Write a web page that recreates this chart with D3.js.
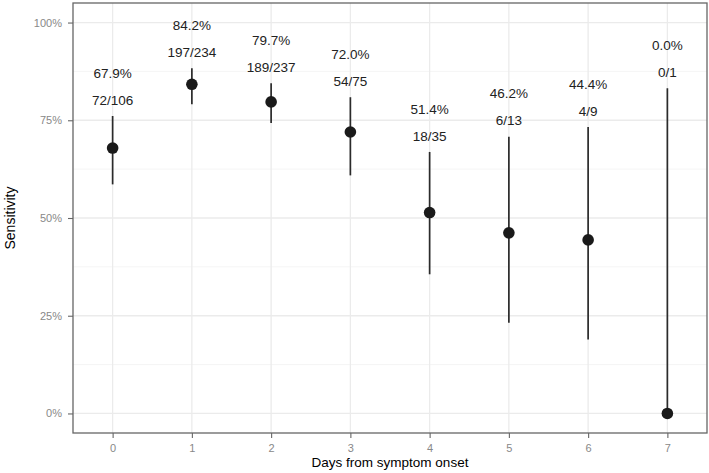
<!DOCTYPE html>
<html>
<head>
<meta charset="utf-8">
<script src="https://cdn.jsdelivr.net/npm/d3@7"></script>
<style>
  body { margin: 0; background: #fff; }
  text { font-family: "Liberation Sans", Arial, sans-serif; }
</style>
</head>
<body>
<div id="grafico"></div>
<script>
const width = 709
const height = 473

// valores
const days = [0, 1, 2, 3, 4, 5, 6, 7]
const sensitivity = [0.679, 0.842, 0.797, 0.720, 0.514, 0.462, 0.444, 0.0]
const lower = [0.586, 0.791, 0.743, 0.609, 0.356, 0.232, 0.189, 0.0]
const upper = [0.761, 0.883, 0.845, 0.809, 0.669, 0.708, 0.733, 0.832]
const pctLabels = ['67.9%', '84.2%', '79.7%', '72.0%', '51.4%', '46.2%', '44.4%', '0.0%']
const countLabels = ['72/106', '197/234', '189/237', '54/75', '18/35', '6/13', '4/9', '0/1']
const yTicks = [0, 0.25, 0.5, 0.75, 1]
const yMinor = [0.125, 0.375, 0.625, 0.875]

const data = days.map((d, i) => ({
    day: d, sens: sensitivity[i], lo: lower[i], hi: upper[i],
    pct: pctLabels[i], count: countLabels[i]
}))

const margin = {top: 3, right: 2, bottom: 40, left: 73}

const svg = d3.select('#grafico').append('svg')
              .attr('width', width)
              .attr('height', height)

const x = d3.scaleLinear()
            .domain([-0.5, 7.5])
            .range([margin.left, width - margin.right])

const y = d3.scaleLinear()
            .domain([-0.05, 1.05])
            .range([height - margin.bottom, margin.top])

// grade
svg.append('g').selectAll('line')
   .data(yMinor)
   .enter().append('line')
   .attr('x1', x.range()[0]).attr('x2', x.range()[1])
   .attr('y1', d => y(d)).attr('y2', d => y(d))
   .attr('stroke', '#f2f2f2').attr('stroke-width', 0.8)

svg.append('g').selectAll('line')
   .data(yTicks)
   .enter().append('line')
   .attr('x1', x.range()[0]).attr('x2', x.range()[1])
   .attr('y1', d => y(d)).attr('y2', d => y(d))
   .attr('stroke', '#ebebeb').attr('stroke-width', 1.3)

svg.append('g').selectAll('line')
   .data(days)
   .enter().append('line')
   .attr('x1', d => x(d)).attr('x2', d => x(d))
   .attr('y1', y.range()[0]).attr('y2', y.range()[1])
   .attr('stroke', '#ebebeb').attr('stroke-width', 1.3)

// eixos
const yAxis = svg.append('g')
                 .attr('transform', `translate(${margin.left},0)`)
                 .call(d3.axisLeft(y).tickValues(yTicks).tickFormat(d3.format('.0%')).tickSize(5).tickPadding(6))
const xAxis = svg.append('g')
                 .attr('transform', `translate(0,${height - margin.bottom})`)
                 .call(d3.axisBottom(x).tickValues(days).tickFormat(d3.format('d')).tickSize(5).tickPadding(6))

;[xAxis, yAxis].forEach(a => {
    a.select('.domain').remove()
    a.selectAll('line').attr('stroke', '#666').attr('stroke-width', 1.1)
    a.selectAll('text').attr('fill', '#888888').style('font-size', '11px')
      .style('font-family', '"Liberation Sans", Arial, sans-serif')
})

// intervalos
svg.append('g').selectAll('line')
   .data(data)
   .enter().append('line')
   .attr('x1', d => x(d.day)).attr('x2', d => x(d.day))
   .attr('y1', d => y(d.lo)).attr('y2', d => y(d.hi))
   .attr('stroke', '#2b2b2b').attr('stroke-width', 1.7)

svg.append('g').selectAll('circle')
   .data(data)
   .enter().append('circle')
   .attr('cx', d => x(d.day))
   .attr('cy', d => y(d.sens))
   .attr('r', 5.8)
   .attr('fill', '#1a1a1a')

const labels = svg.append('g').selectAll('g')
                  .data(data)
                  .enter().append('g')
                  .attr('transform', d => `translate(${x(d.day)},${y(d.hi)})`)

labels.append('text')
      .attr('y', -16)
      .attr('dy', '0.35em')
      .attr('text-anchor', 'middle')
      .style('font-size', '13.5px')
      .attr('fill', '#222')
      .text(d => d.count)

labels.append('text')
      .attr('y', -43)
      .attr('dy', '0.35em')
      .attr('text-anchor', 'middle')
      .style('font-size', '13.5px')
      .attr('fill', '#222')
      .text(d => d.pct)

// borda do painel
svg.append('rect')
   .attr('x', x.range()[0]).attr('y', y.range()[1])
   .attr('width', x.range()[1] - x.range()[0])
   .attr('height', y.range()[0] - y.range()[1])
   .attr('fill', 'none')
   .attr('stroke', '#666').attr('stroke-width', 1.3)

// títulos
svg.append('text')
   .attr('x', (x.range()[0] + x.range()[1]) / 2)
   .attr('y', 467)
   .attr('text-anchor', 'middle')
   .style('font-size', '13.5px')
   .attr('fill', '#000')
   .text('Days from symptom onset')

svg.append('text')
   .attr('transform', `translate(15,${(y.range()[0] + y.range()[1]) / 2}) rotate(-90)`)
   .attr('text-anchor', 'middle')
   .style('font-size', '14px')
   .attr('fill', '#000')
   .text('Sensitivity')
</script>
</body>
</html>
